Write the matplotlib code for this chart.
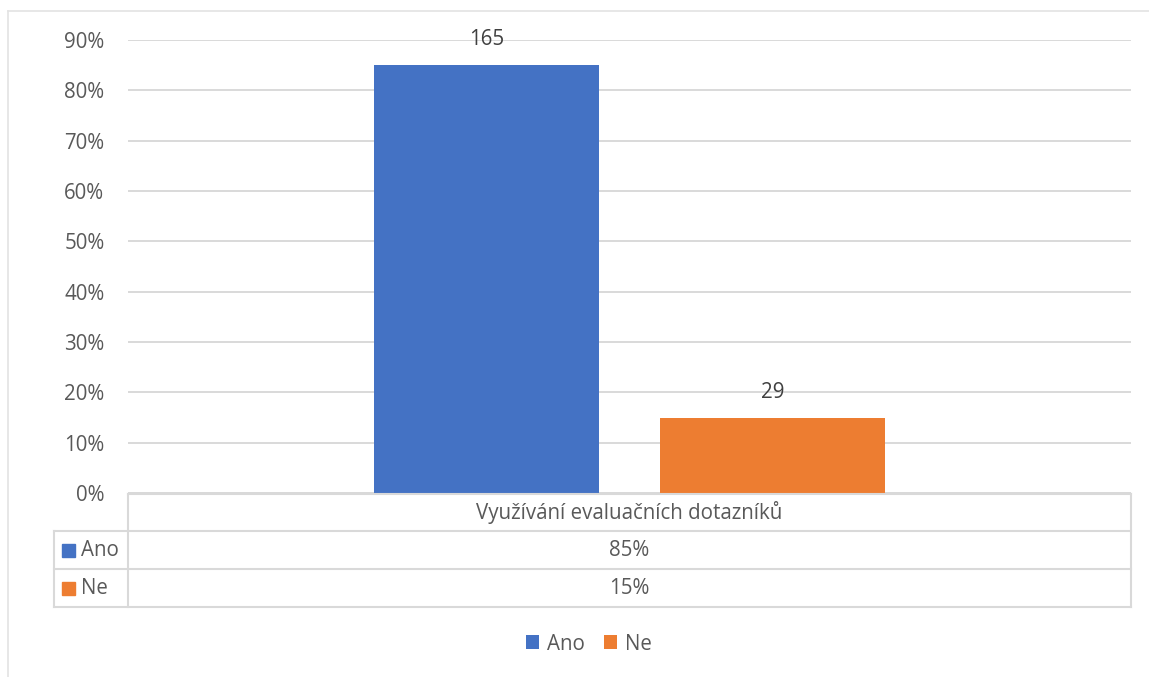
import numpy as np
import matplotlib.pyplot as plt
from matplotlib.patches import Rectangle
from matplotlib.lines import Line2D

plt.rcParams['font.family'] = ['Open Sans', 'DejaVu Sans']

category = "Využívání evaluačních dotazníků"
series = ["Ano", "Ne"]
counts = [165, 29]
colors = ["#4472c4", "#ed7d31"]
yticks = [0, 0.1, 0.2, 0.3, 0.4, 0.5, 0.6, 0.7, 0.8, 0.9]

total = sum(counts)
shares = [c / total for c in counts]

W, H = 1149, 677
fig = plt.figure(figsize=(W / 100, H / 100), dpi=100)
txt = "#595959"
grid = "#d9d9d9"
fs = 14.8

def fx(x):
    return x / W

def fy(y):
    return 1 - y / H

# plot area in pixel terms
left, right, top, bottom = 128, 1131, 40, 493
ax = fig.add_axes([fx(left), fy(bottom), fx(right - left), fy(top) - fy(bottom)])
ax.set_xlim(-0.5, 0.5)
ax.set_ylim(0, 0.9)
offsets = [-0.1425, 0.1425]
bars = []
for off, s, v, c, n in zip(offsets, series, shares, colors, counts):
    b = ax.bar(off, v, width=0.224, color=c, label=s, zorder=3)
    bars.append(b)
    ax.annotate(str(n), (off, v), xytext=(0, 18), textcoords="offset points",
                ha="center", va="center", fontsize=fs, color="#404040")
ax.set_yticks(yticks)
ax.set_yticklabels([f"{int(round(t * 100))}%" for t in yticks], fontsize=fs, color=txt)
ax.tick_params(axis="y", length=0, pad=17)
ax.set_xticks([])
ax.yaxis.grid(True, color=grid, linewidth=1.4, zorder=0)
for sp in ax.spines.values():
    sp.set_visible(False)

# overlay for table and frame
ov = fig.add_axes([0, 0, 1, 1], facecolor="none")
ov.set_xlim(0, W)
ov.set_ylim(H, 0)
ov.axis("off")

def line(x0, y0, x1, y1, c=grid, lw=1.5):
    ov.add_line(Line2D([x0, x1], [y0, y1], color=c, linewidth=lw))

# chart frame
line(8, 11, W, 11, "#e3e3e3", 1.2)
line(8, 11, 8, H, "#e3e3e3", 1.2)

# data table
rows = [494, 531, 569, 607]
line(left, rows[0], right, rows[0])
for r in rows[1:]:
    line(54, r, right, r)
line(left, rows[0], left, rows[-1])
line(54, rows[1], 54, rows[-1])
line(right, rows[0], right, rows[-1])

ov.text((left + right) / 2, (rows[0] + rows[1]) / 2, category,
        ha="center", va="center", fontsize=fs, color=txt)
for i, (s, v, c) in enumerate(zip(series, shares, colors)):
    yc = (rows[i + 1] + rows[i + 2]) / 2
    ov.add_patch(Rectangle((62, yc - 6.5), 13, 13, color=c))
    ov.text(81, yc, s, ha="left", va="center", fontsize=fs, color=txt)
    ov.text((left + right) / 2, yc, f"{v:.0%}", ha="center", va="center", fontsize=fs, color=txt)

fig.legend(handles=[b[0] for b in bars], labels=series, loc="center",
           bbox_to_anchor=(fx(589), fy(644)), ncol=2, frameon=False,
           fontsize=fs, handlelength=0.65, handleheight=0.65, handletextpad=0.4,
           columnspacing=0.9, labelcolor=txt)

fig.savefig("out.png", dpi=100)
